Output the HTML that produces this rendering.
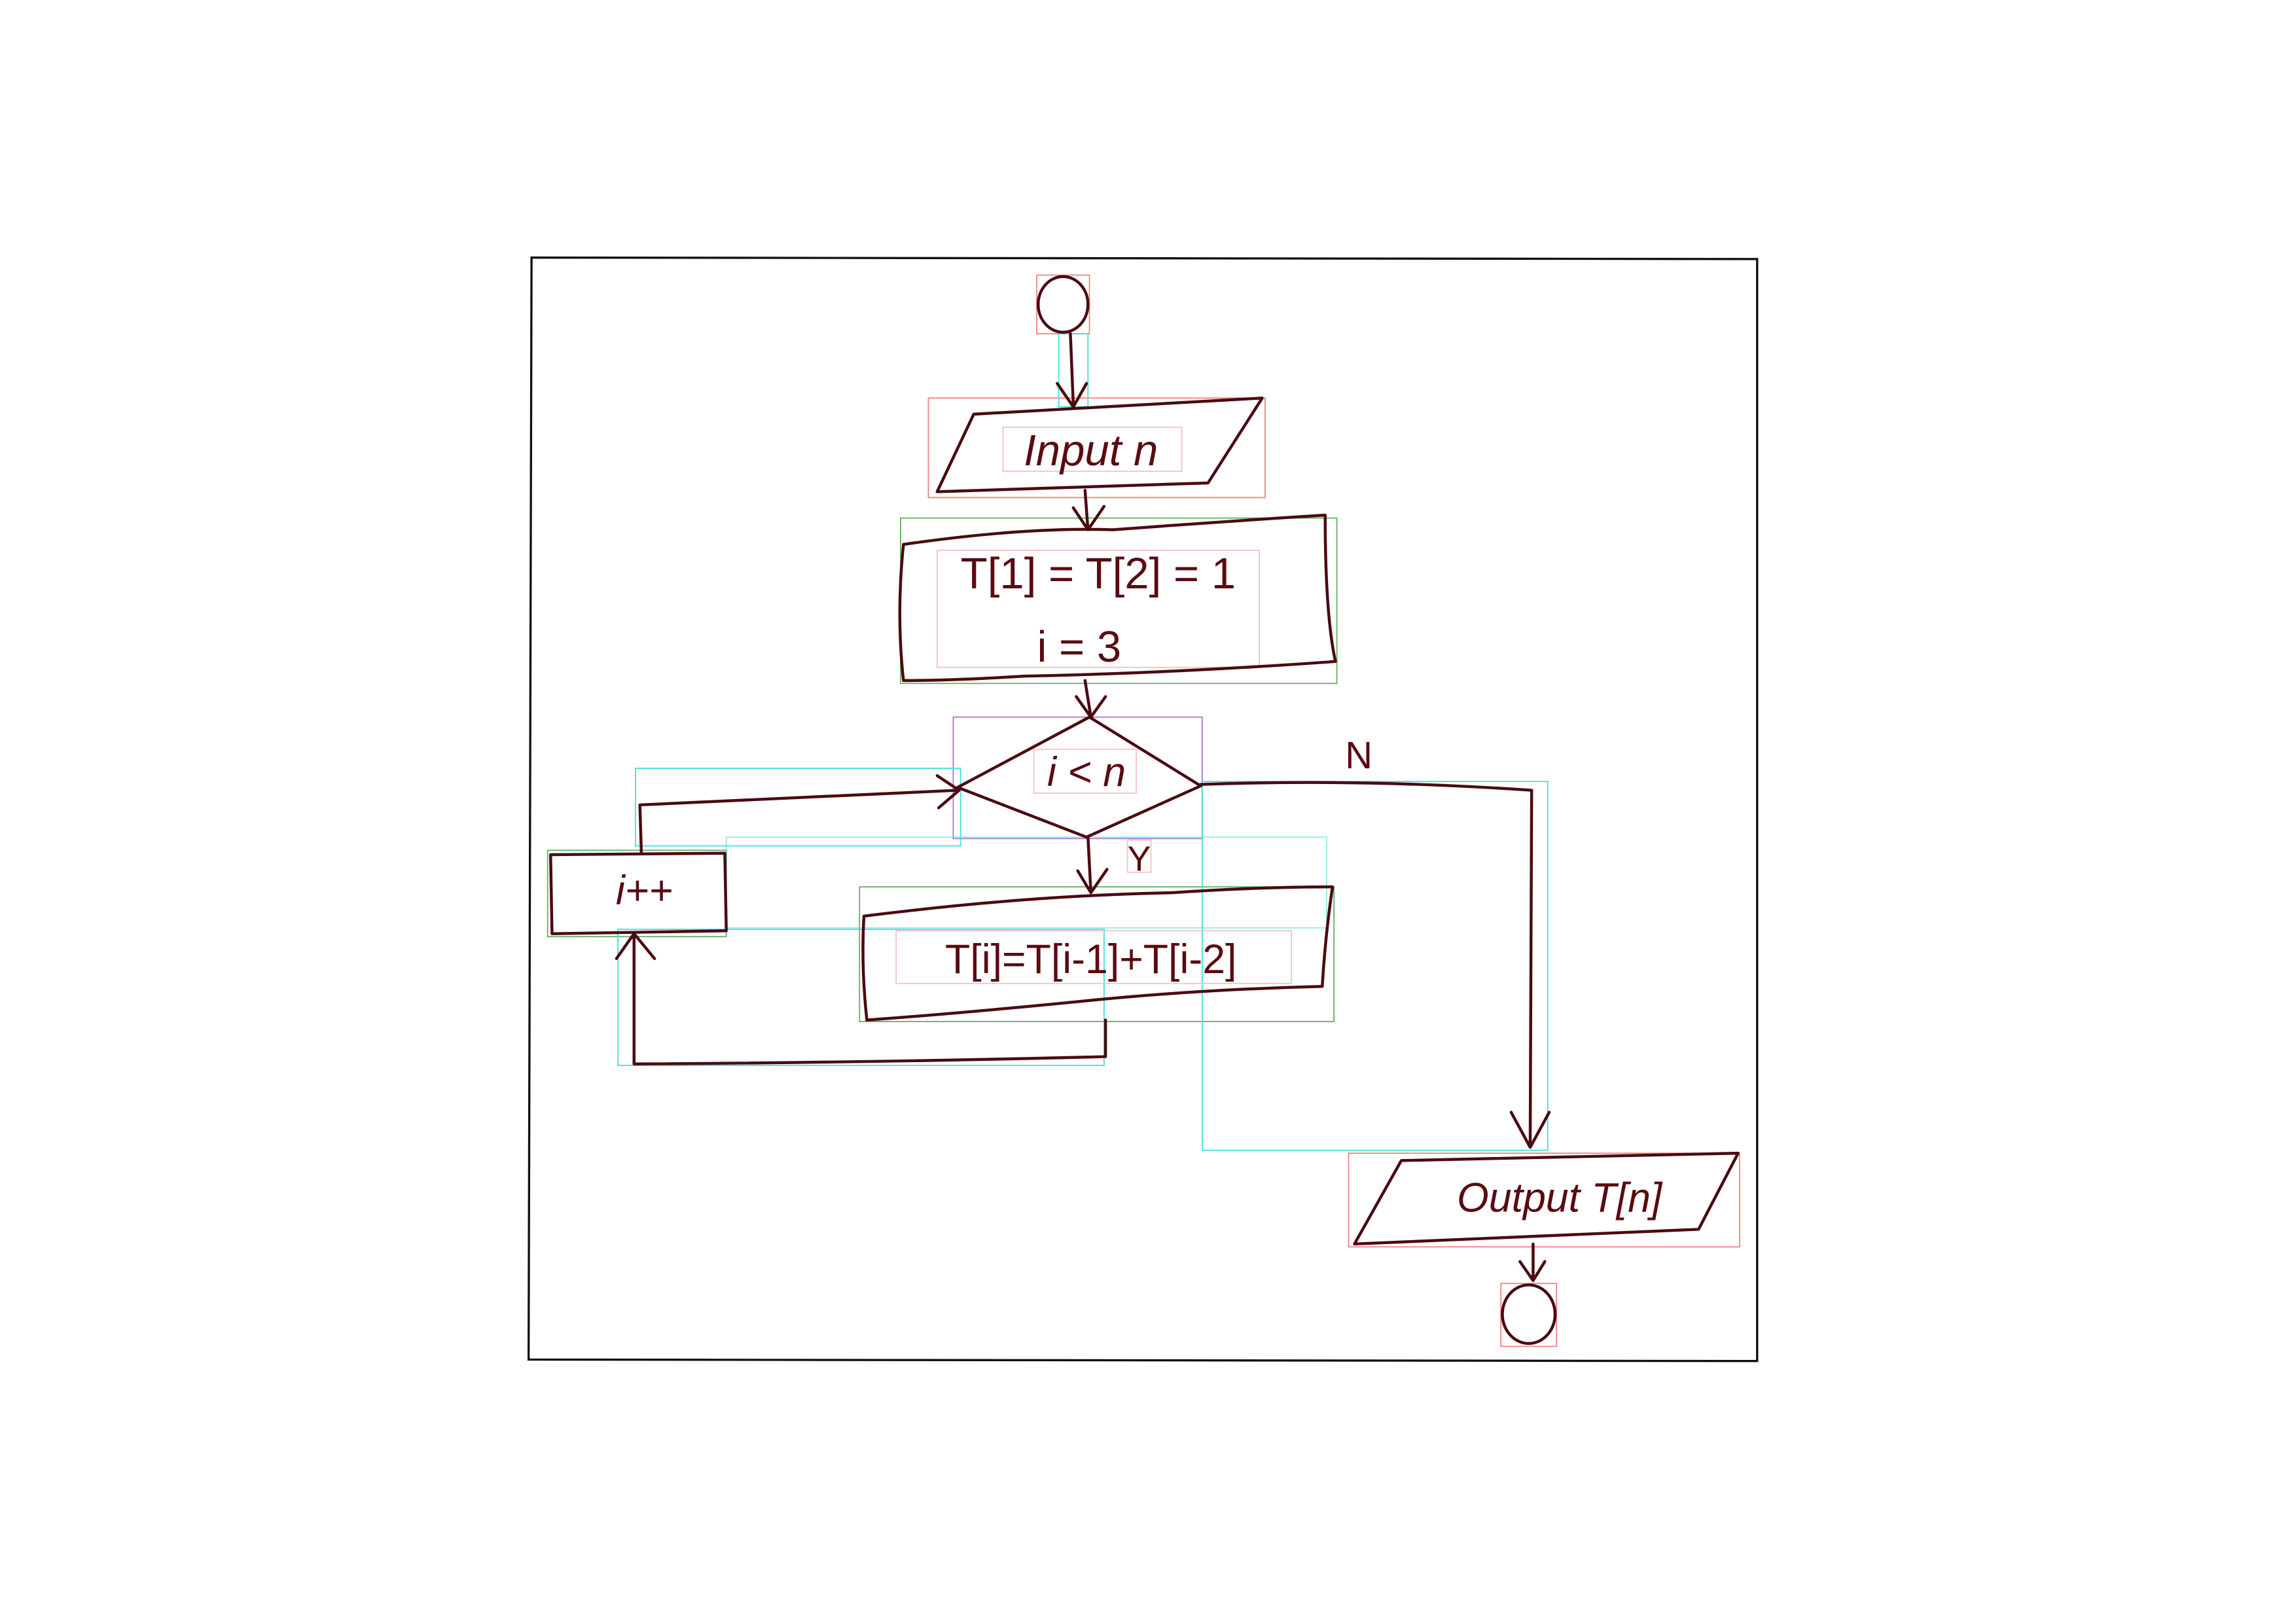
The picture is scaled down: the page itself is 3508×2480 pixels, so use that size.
<!DOCTYPE html>
<html><head><meta charset="utf-8"><style>
html,body{margin:0;padding:0;background:#fff;}
svg{display:block;}
text{font-family:"Liberation Sans",sans-serif;fill:#5a0a10;}
</style></head><body>
<svg width="3508" height="2480" viewBox="0 0 1568 1109" preserveAspectRatio="none" xmlns="http://www.w3.org/2000/svg">
<rect x="0" y="0" width="1568" height="1109" fill="#fff"/>
<!-- frame -->
<path d="M363 176 L1200 177 L1200 930 L361 929 Z" fill="none" stroke="#111" stroke-width="1.5"/>

<!-- helper bboxes -->
<g fill="none" stroke-width="0.8">
<rect x="708" y="188" width="36" height="40" stroke="#f08080"/>
<rect x="634" y="272" width="230" height="68" stroke="#f08080"/>
<rect x="615" y="354" width="298" height="113" stroke="#60b060"/>
<rect x="651" y="490" width="170" height="83" stroke="#b070d0"/>
<rect x="587" y="606" width="324" height="92" stroke="#60b060"/>
<rect x="374" y="581" width="122" height="59" stroke="#60b060"/>
<rect x="921" y="788" width="267" height="64" stroke="#f08080"/>
<rect x="1025" y="877" width="38" height="43" stroke="#f08080"/>
<rect x="434" y="525" width="222" height="53" stroke="#40e0e0"/>
<rect x="422" y="635" width="332" height="93" stroke="#40e0e0"/>
<rect x="821" y="534" width="236" height="252" stroke="#40e0e0"/>
<rect x="496" y="572" width="410" height="62" stroke="#40e0e0" opacity="0.6"/>
<rect x="723" y="228" width="20" height="50" stroke="#40e0e0"/>
<rect x="685" y="292" width="122" height="30" stroke="#f8c0c0"/>
<rect x="640" y="376" width="220" height="80" stroke="#f8c0c0"/>
<rect x="612" y="636" width="270" height="36" stroke="#f8c0c0"/>
<rect x="706" y="512" width="70" height="30" stroke="#f8c0c0"/>
<rect x="770" y="574" width="16" height="22" stroke="#f8c0c0"/>
</g>

<g fill="none" stroke="#4a0a10" stroke-width="2" stroke-linecap="round" stroke-linejoin="round">
<ellipse cx="726" cy="208" rx="17" ry="19"/>
<path d="M731 228 L733 277 M722 262 L733 278 L742 262"/>
<path d="M665 283 L862 272 L825 330 L640 336 Z"/>
<path d="M741 335 L743 362 M733 347 L743 362 L754 346"/>
<path d="M617 372 Q700 360 760 362 Q840 356 905 352 Q905 420 912 452 Q800 460 700 462 Q650 465 617 465 Q612 420 617 372 Z"/>
<path d="M741 465 L745 490 M735 476 L745 490 L755 476"/>
<path d="M744 490 L820 537 L742 572 L654 538 Z"/>
<path d="M820 536 Q930 532 1046 540 L1045 784 M1032 760 L1045 784 L1058 760"/>
<path d="M743 572 L745 610 M736 595 L745 610 L756 594"/>
<path d="M590 626 Q700 612 800 610 Q860 606 910 606 Q905 640 903 674 Q820 676 740 684 Q660 692 592 697 Q588 660 590 626 Z"/>
<path d="M755 697 L755 722 Q600 726 433 727 L433 638 M421 655 L433 638 L447 655"/>
<path d="M376 584 L495 583 L496 636 L377 638 Z"/>
<path d="M438 583 L437 550 Q540 545 654 540 M640 530 L655 540 L641 552"/>
<path d="M957 793 L1187 788 L1160 840 L925 850 Z"/>
<path d="M1047 850 L1047 875 M1038 862 L1047 875 L1055 862"/>
<ellipse cx="1044" cy="898" rx="18" ry="20"/>
</g>

<text x="745" y="318" font-size="30" text-anchor="middle" font-style="italic">Input n</text>
<text x="750" y="402" font-size="30" text-anchor="middle">T[1] = T[2] = 1</text>
<text x="737" y="452" font-size="30" text-anchor="middle">i = 3</text>
<text x="742" y="537" font-size="28" text-anchor="middle" font-style="italic">i &lt; n</text>
<text x="928" y="525" font-size="26" text-anchor="middle">N</text>
<text x="778" y="595" font-size="24" text-anchor="middle">Y</text>
<text x="745" y="665" font-size="28" text-anchor="middle">T[i]=T[i-1]+T[i-2]</text>
<text x="440" y="618" font-size="28" text-anchor="middle" font-style="italic">i++</text>
<text x="1065" y="828" font-size="28" text-anchor="middle" font-style="italic">Output  T[n]</text>
</svg>
</body></html>
